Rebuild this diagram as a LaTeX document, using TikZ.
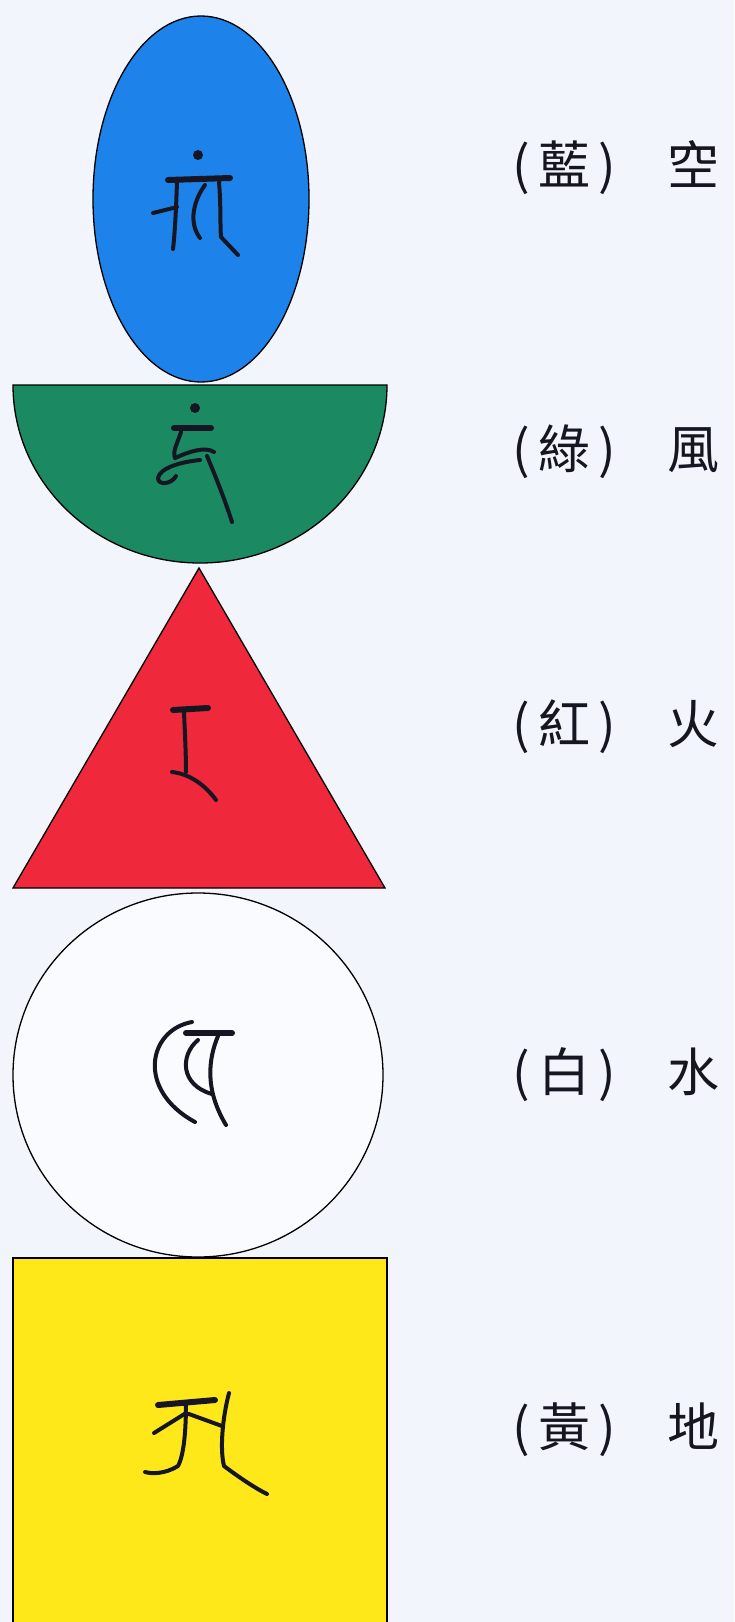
\documentclass[tikz,border=0pt]{standalone}
\usepackage{fontspec}
\newfontfamily\cjk{Noto Sans CJK TC}
\usetikzlibrary{positioning}

\definecolor{bgpaper}{RGB}{242,246,252}
\definecolor{kongblue}{RGB}{30,130,235}
\definecolor{fenggreen}{RGB}{27,138,98}
\definecolor{huored}{RGB}{240,40,60}
\definecolor{diyellow}{RGB}{255,232,26}
\definecolor{inkdark}{RGB}{22,22,34}

\begin{document}
\begin{tikzpicture}[x=1pt, y=-1pt,
	elemshape/.style={draw=black, line width=1.3pt},
	glyph/.style={draw=inkdark, line width=4pt, line cap=round, line join=round},
	glyphbar/.style={glyph, line width=6pt},
	elemlabel/.style={font=\cjk\fontsize{52pt}{62pt}\selectfont, text=inkdark, inner sep=0pt}
]
	% Paper
	\fill[bgpaper] (0,0) rectangle (734,1622);
	\useasboundingbox (0,0) rectangle (734,1622);

	% Space: blue ellipse
	\filldraw[elemshape, fill=kongblue] (201,199) ellipse [x radius=108pt, y radius=183pt];
	% Wind: green half disk
	\filldraw[elemshape, fill=fenggreen] (13,385) -- (387,385)
		arc[start angle=0, end angle=-180, x radius=187pt, y radius=178pt] -- cycle;
	% Fire: red triangle
	\filldraw[elemshape, fill=huored] (199,568) -- (385,888) -- (13,888) -- cycle;
	% Water: white circle
	\filldraw[elemshape, fill=bgpaper!40!white] (198,1075) ellipse [x radius=185pt, y radius=182pt];
	% Earth: yellow square
	\filldraw[elemshape, fill=diyellow] (13,1258) rectangle (387,1640);

	% Seed syllables
	% kham
	\fill[inkdark] (198,155) circle (5pt);
	\draw[glyphbar] (168,180) -- (230,178);
	\draw[glyph] (177,182) .. controls (176,210) and (175,232) .. (173,249);
	\draw[glyph] (153,213) -- (177,207);
	\draw[glyph] (205,185) .. controls (194,200) and (188,222) .. (200,238);
	\draw[glyph] (219,182) .. controls (221,205) and (220,225) .. (221,237) -- (238,255);
	% ham
	\fill[inkdark] (195,408) circle (5pt);
	\draw[glyphbar] (174,428) -- (211,428);
	\draw[glyph] (181,432) .. controls (178,442) and (172,452) .. (175,458)
		.. controls (188,452) and (205,446) .. (214,452);
	\draw[glyph] (200,460) .. controls (180,462) and (160,468) .. (158,478)
		.. controls (158,486) and (172,484) .. (176,476);
	\draw[glyph] (207,456) .. controls (215,475) and (225,500) .. (232,522);
	% ram
	\draw[glyphbar] (173,710) -- (208,708);
	\draw[glyph] (184,712) .. controls (185,735) and (186,755) .. (186,772);
	\draw[glyph] (172,772) .. controls (190,774) and (205,785) .. (216,800);
	% vam
	\draw[glyph] (192,1022) .. controls (148,1030) and (136,1090) .. (195,1122);
	\draw[glyphbar] (186,1033) -- (232,1033);
	\draw[glyph] (198,1040) .. controls (180,1055) and (180,1085) .. (212,1094);
	\draw[glyph] (218,1036) .. controls (208,1060) and (205,1090) .. (226,1125);
	% a
	\draw[glyphbar] (158,1405) -- (215,1400);
	\draw[glyph] (186,1402) .. controls (186,1430) and (184,1455) .. (178,1466)
		.. controls (165,1474) and (152,1474) .. (145,1472);
	\draw[glyph] (186,1413) -- (154,1433);
	\draw[glyph] (189,1414) -- (222,1426);
	\draw[glyph] (229,1393) .. controls (222,1420) and (220,1450) .. (224,1466)
		.. controls (240,1478) and (255,1488) .. (267,1494);

	% Labels
	\node[elemlabel] (kong) at (616,168) {(\hspace{.16em}藍\hspace{.16em})\hspace{1em}空};
	\node[elemlabel] (feng) at (616,452) {(\hspace{.16em}綠\hspace{.16em})\hspace{1em}風};
	\node[elemlabel] (huo) at (616,727) {(\hspace{.16em}紅\hspace{.16em})\hspace{1em}火};
	\node[elemlabel] (shui) at (616,1075) {(\hspace{.16em}白\hspace{.16em})\hspace{1em}水};
	\node[elemlabel] (di) at (616,1430) {(\hspace{.16em}黃\hspace{.16em})\hspace{1em}地};
\end{tikzpicture}
\end{document}
